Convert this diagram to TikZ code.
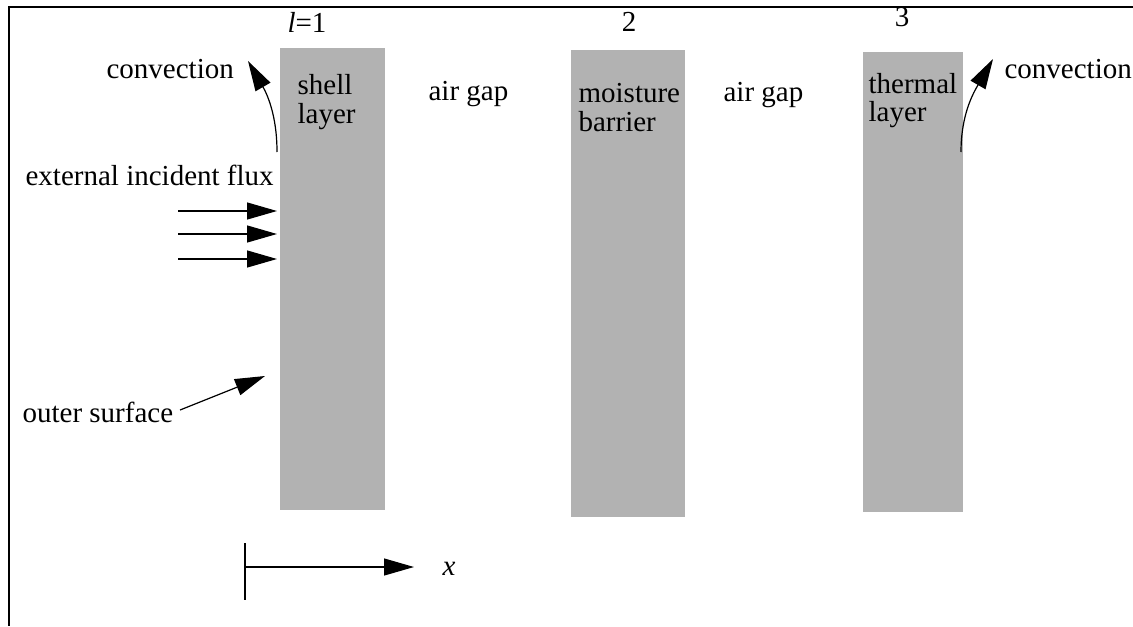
\documentclass[tikz,border=0pt]{standalone}
\usepackage{fontspec}
\setmainfont{Liberation Serif}
\usetikzlibrary{arrows.meta}
\tikzset{
  layer/.style = {fill=black!30, draw=none, inner sep=0pt, anchor=north west},
  lbl/.style   = {font=\fontsize{14.5}{14}\selectfont, inner sep=0pt, anchor=base west, align=left},
  flux/.style  = {-{Triangle[length=15pt,width=8.5pt]}},
}

\begin{document}
\begin{tikzpicture}[x=0.5pt, y=-0.5pt, line width=0.6pt]
        \useasboundingbox (0,0) rectangle (1133,626);
        \draw (1133,7) -- (9,7) -- (9,626);
        % the three layers
        \node[layer, minimum width=52.5pt, minimum height=231pt] (shell)   at (279,47) {};
        \node[layer, minimum width=57pt,   minimum height=233.5pt] (barrier) at (570,49) {};
        \node[layer, minimum width=50pt,   minimum height=230pt] (thermal) at (862,51) {};
        \node[lbl, anchor=base] (n1) at (307,33) {\textit{l}=1};
        \node[lbl, anchor=base] (n2) at (629,32) {2};
        \node[lbl, anchor=base] (n3) at (902,27) {3};
        % base of a two-line label = baseline of its last line
        \node[lbl] (shelltxt)   at (297,123) {shell\\ layer};
        \node[lbl] (gap1)       at (428,101) {air gap};
        \node[lbl] (barriertxt) at (578,131) {moisture\\ barrier};
        \node[lbl] (gap2)       at (723,102) {air gap};
        \node[lbl] (thermaltxt) at (868,121) {thermal\\ layer};
        % convection
        \node[lbl] (convl) at (106,79) {convection};
        \node[lbl] (convr) at (1004,79) {convection};
        \coordinate (cl0) at (277,152);
        \coordinate (cl1) at (248,61);
        \coordinate (cr0) at (961,152);
        \coordinate (cr1) at (993,59);
        \draw[flux] (cl0) to[out=90, in=-60] (cl1);
        \draw[flux] (cr0) to[out=90, in=-120] (cr1);
        % incident flux
        \node[lbl] (fluxtxt) at (25,185) {external incident flux};
        \foreach \y in {211,234,259} {
            \draw[flux] (178,\y) -- (277,\y);
        }
        % outer surface
        \node[lbl] (outer) at (22,422) {outer surface};
        \coordinate (os) at (265,376);
        \draw[flux] (180,410) -- (os);
        % x axis
        \coordinate (x0) at (245,567);
        \coordinate (x1) at (414,567);
        \draw (245,543) -- (245,600);
        \draw[flux] (x0) -- (x1);
        \node[lbl, anchor=base] (xtxt) at (449,575) {\textit{x}};
    \end{tikzpicture}
\end{document}
